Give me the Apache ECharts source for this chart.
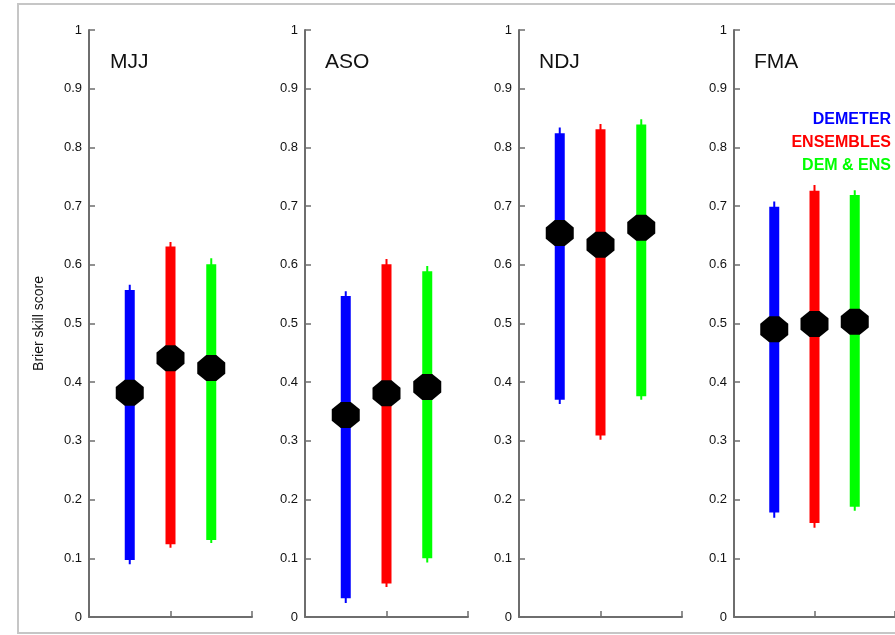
<!DOCTYPE html>
<html>
<head>
<meta charset="utf-8">
<script src="https://cdn.jsdelivr.net/npm/echarts@6/dist/echarts.min.js"></script>
<style>html,body{margin:0;padding:0;background:#fff;}#c{width:895px;height:635px;}</style>
</head>
<body>
<div id="c"></div>
<script>
const panels = ['MJJ', 'ASO', 'NDJ', 'FMA'];
const models = ['DEMETER', 'ENSEMBLES', 'DEM & ENS'];
const modelColors = ['#0000ff', '#ff0000', '#00ff00'];
const xPos = [1, 2, 3];
const yTicks = [0, 0.1, 0.2, 0.3, 0.4, 0.5, 0.6, 0.7, 0.8, 0.9, 1];

// median Brier skill score per season
const demScore  = [0.382, 0.344, 0.654, 0.490];
const ensScore  = [0.441, 0.381, 0.634, 0.499];
const bothScore = [0.424, 0.392, 0.663, 0.503];
// thick bar range
const demBoxLow   = [0.097, 0.032, 0.370, 0.178];
const demBoxHigh  = [0.557, 0.547, 0.824, 0.699];
const ensBoxLow   = [0.124, 0.057, 0.309, 0.160];
const ensBoxHigh  = [0.631, 0.601, 0.831, 0.726];
const bothBoxLow  = [0.131, 0.100, 0.376, 0.188];
const bothBoxHigh = [0.601, 0.589, 0.839, 0.719];
// thin whisker range
const demLow   = [0.090, 0.024, 0.363, 0.169];
const demHigh  = [0.566, 0.555, 0.834, 0.708];
const ensLow   = [0.118, 0.051, 0.302, 0.152];
const ensHigh  = [0.639, 0.610, 0.840, 0.736];
const bothLow  = [0.126, 0.093, 0.370, 0.181];
const bothHigh = [0.611, 0.598, 0.848, 0.727];

const scores = [demScore, ensScore, bothScore];
const boxLows = [demBoxLow, ensBoxLow, bothBoxLow];
const boxHighs = [demBoxHigh, ensBoxHigh, bothBoxHigh];
const lows = [demLow, ensLow, bothLow];
const highs = [demHigh, ensHigh, bothHigh];

const chart = echarts.init(document.getElementById('c'), null, {renderer: 'canvas'});

const gridLefts = [89, 305, 519, 734];
const grids = [], xAxes = [], yAxes = [], series = [];
const axisCol = '#6e6e6e';
const ff = 'Liberation Sans, Arial, sans-serif';

panels.forEach((p, i) => {
  grids.push({left: gridLefts[i], width: 163, top: 30, bottom: 18});
  xAxes.push({
    gridIndex: i, type: 'value', min: 0, max: 4, interval: 2,
    axisLine: {show: true, lineStyle: {color: axisCol, width: 2}},
    axisTick: {show: true, inside: true, length: 6, lineStyle: {color: axisCol, width: 1.5}},
    axisLabel: {show: false}, splitLine: {show: false}
  });
  yAxes.push({
    gridIndex: i, type: 'value', min: 0, max: 1, interval: 0.1,
    name: i === 0 ? 'Brier skill score' : '',
    nameLocation: 'middle', nameGap: 43, nameRotate: 90,
    nameTextStyle: {fontSize: 14, color: '#111', fontFamily: ff},
    axisLine: {show: true, lineStyle: {color: axisCol, width: 2}},
    axisTick: {show: true, inside: true, length: 6, lineStyle: {color: axisCol, width: 1.5}},
    axisLabel: {margin: 7, fontSize: 13, color: '#111', fontFamily: ff},
    splitLine: {show: false}
  });
  const data = xPos.map((x, m) => [x, boxLows[m][i], boxHighs[m][i], lows[m][i], highs[m][i], m]);
  series.push({
    type: 'custom', xAxisIndex: i, yAxisIndex: i, z: 2,
    data: data,
    renderItem: function (params, api) {
      const x = api.value(0);
      const bl = api.coord([x, api.value(1)]);
      const bh = api.coord([x, api.value(2)]);
      const l = api.coord([x, api.value(3)]);
      const h = api.coord([x, api.value(4)]);
      const col = modelColors[api.value(5)];
      return {
        type: 'group',
        children: [
          {type: 'rect', shape: {x: l[0] - 1, y: h[1], width: 2, height: l[1] - h[1]}, style: {fill: col}},
          {type: 'rect', shape: {x: bl[0] - 5, y: bh[1], width: 10, height: bl[1] - bh[1]}, style: {fill: col}}
        ]
      };
    }
  });
  series.push({
    type: 'scatter', xAxisIndex: i, yAxisIndex: i, z: 5,
    symbol: 'path://M32,0 L68,0 L100,28 L100,72 L68,100 L32,100 L0,72 L0,28 Z',
    symbolSize: [28, 26],
    itemStyle: {color: '#000', opacity: 1},
    data: xPos.map((x, m) => [x, scores[m][i]])
  });
});

const titleX = [110, 325, 539, 754];
const graphics = [
  {type: 'rect', shape: {x: 18, y: 4, width: 900, height: 629}, style: {fill: 'none', stroke: '#c6c6c6', lineWidth: 2}, z: 0}
];
panels.forEach((p, i) => {
  graphics.push({type: 'text', x: titleX[i], y: 62, style: {text: p, fontSize: 21, fill: '#111', textVerticalAlign: 'middle', fontFamily: ff}});
});
const legendY = [120, 143, 166];
models.forEach((m, k) => {
  graphics.push({type: 'text', x: 891, y: legendY[k], style: {text: m, fontSize: 16, fontWeight: 'bold', fill: modelColors[k], textAlign: 'right', textVerticalAlign: 'middle', fontFamily: ff}});
});

chart.setOption({
  animation: false,
  backgroundColor: '#fff',
  grid: grids, xAxis: xAxes, yAxis: yAxes, series: series,
  graphic: graphics
});
</script>
</body>
</html>
